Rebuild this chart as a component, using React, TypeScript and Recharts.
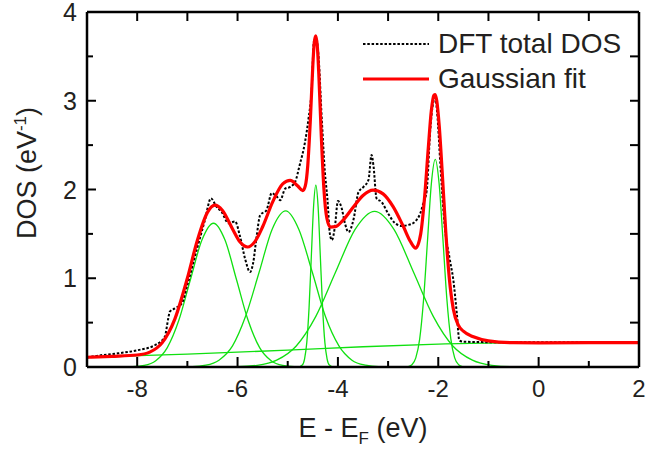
import { LineChart, Line, XAxis, YAxis, Legend } from "recharts";

// DFT total DOS (dotted black)
const dftDos: [number, number][] = [
  [-9, 0.105], [-8.91, 0.116], [-8.38, 0.154], [-7.98, 0.19], [-7.64, 0.248], [-7.45, 0.342],
  [-7.38, 0.55], [-7.35, 0.623], [-7.25, 0.66], [-7.11, 0.717], [-7.01, 0.905], [-6.85, 1.243],
  [-6.65, 1.656], [-6.53, 1.9], [-6.42, 1.806], [-6.32, 1.75], [-6.18, 1.62], [-6.05, 1.64],
  [-5.95, 1.47], [-5.85, 1.22], [-5.75, 1.07], [-5.69, 1.17], [-5.62, 1.47], [-5.55, 1.71],
  [-5.42, 1.77], [-5.32, 1.96], [-5.22, 1.92], [-5.15, 1.88], [-5.05, 2.01], [-4.95, 2.03],
  [-4.85, 2.09], [-4.76, 2.28], [-4.66, 2.52], [-4.59, 2.78], [-4.52, 3.16], [-4.48, 3.66],
  [-4.44, 3.72], [-4.39, 3.53], [-4.32, 2.78], [-4.26, 2.2], [-4.21, 1.9], [-4.16, 1.5],
  [-4.12, 1.43], [-4.06, 1.58], [-4.0, 1.87], [-3.93, 1.8], [-3.86, 1.62], [-3.79, 1.52],
  [-3.69, 1.66], [-3.59, 1.97], [-3.49, 2.03], [-3.39, 2.11], [-3.33, 2.39], [-3.29, 2.26],
  [-3.23, 1.9], [-3.13, 1.86], [-3.0, 1.73], [-2.86, 1.62], [-2.73, 1.59], [-2.6, 1.6],
  [-2.46, 1.64], [-2.36, 1.73], [-2.3, 1.84], [-2.23, 1.99], [-2.16, 2.67], [-2.1, 2.98],
  [-2.06, 3.03], [-2.02, 2.85], [-1.96, 2.3], [-1.87, 1.58], [-1.77, 1.21], [-1.7, 0.98],
  [-1.63, 0.6], [-1.58, 0.3], [-1.5, 0.285], [-1, 0.28], [0, 0.28], [1, 0.278], [2, 0.275],
];

// Gaussian fit (red)
const gaussFit: [number, number][] = [
  [-9, 0.11], [-8.5, 0.12], [-8, 0.135], [-7.75, 0.168], [-7.5, 0.275], [-7.25, 0.54],
  [-7, 1.0], [-6.8, 1.428], [-6.6, 1.742], [-6.45, 1.824], [-6.3, 1.764], [-6.1, 1.555],
  [-5.95, 1.408], [-5.8, 1.352], [-5.65, 1.416], [-5.5, 1.58], [-5.3, 1.861], [-5.1, 2.064],
  [-4.95, 2.103], [-4.8, 2.04], [-4.7, 1.987], [-4.65, 2.041], [-4.6, 2.276], [-4.55, 2.773],
  [-4.5, 3.395], [-4.47, 3.663], [-4.44, 3.73], [-4.41, 3.612], [-4.38, 3.292], [-4.33, 2.589],
  [-4.28, 2.015], [-4.22, 1.676], [-4.15, 1.576], [-4.05, 1.581], [-3.9, 1.653], [-3.7, 1.797],
  [-3.5, 1.933], [-3.3, 1.993], [-3.1, 1.951], [-2.9, 1.807], [-2.7, 1.588], [-2.55, 1.409],
  [-2.45, 1.34], [-2.35, 1.5], [-2.27, 1.93], [-2.2, 2.46], [-2.14, 2.88], [-2.09, 3.06],
  [-2.06, 3.07], [-2.03, 3.0], [-1.98, 2.71], [-1.92, 2.18], [-1.85, 1.52], [-1.78, 1.0],
  [-1.7, 0.652], [-1.6, 0.471], [-1.5, 0.403], [-1.3, 0.34], [-1, 0.295], [-0.5, 0.274],
  [0, 0.272], [1, 0.274], [2, 0.275],
];

// fit components (green)
const peak1: [number, number][] = [
  [-9, 0], [-8.32, 0.001], [-8.09, 0.004], [-7.86, 0.018], [-7.63, 0.071], [-7.4, 0.219],
  [-7.17, 0.526], [-6.94, 0.983], [-6.71, 1.43], [-6.48, 1.62], [-6.25, 1.43], [-6.02, 0.983],
  [-5.79, 0.526], [-5.56, 0.219], [-5.33, 0.071], [-5.1, 0.018], [-4.87, 0.004], [-4.64, 0.001], [2, 0],
];
const peak2: [number, number][] = [
  [-9, 0], [-6.9, 0.004], [-6.63, 0.02], [-6.37, 0.077], [-6.1, 0.238], [-5.84, 0.571],
  [-5.57, 1.067], [-5.31, 1.553], [-5.04, 1.76], [-4.78, 1.553], [-4.51, 1.067], [-4.25, 0.571],
  [-3.98, 0.238], [-3.72, 0.077], [-3.45, 0.02], [-3.19, 0.004], [2, 0],
];
const peak3: [number, number][] = [
  [-9, 0], [-4.8, 0], [-4.71, 0.023], [-4.665, 0.09], [-4.62, 0.277], [-4.575, 0.666],
  [-4.53, 1.243], [-4.485, 1.809], [-4.44, 2.05], [-4.395, 1.809], [-4.35, 1.243],
  [-4.305, 0.666], [-4.26, 0.277], [-4.215, 0.09], [-4.17, 0.023], [-4.08, 0], [2, 0],
];
const peak4: [number, number][] = [
  [-9, 0], [-6.0, 0.004], [-5.61, 0.019], [-5.22, 0.077], [-4.83, 0.237], [-4.44, 0.57],
  [-4.05, 1.064], [-3.66, 1.548], [-3.27, 1.754], [-2.88, 1.548], [-2.49, 1.064], [-2.1, 0.57],
  [-1.71, 0.237], [-1.32, 0.077], [-0.93, 0.019], [-0.54, 0.004], [2, 0],
];
const peak5: [number, number][] = [
  [-9, 0], [-2.7, 0], [-2.6, 0.005], [-2.525, 0.026], [-2.448, 0.103], [-2.37, 0.317],
  [-2.293, 0.76], [-2.215, 1.419], [-2.138, 2.065], [-2.06, 2.34], [-1.983, 2.065],
  [-1.905, 1.419], [-1.828, 0.76], [-1.75, 0.317], [-1.673, 0.103], [-1.595, 0.026],
  [-1.518, 0.005], [-1.42, 0], [2, 0],
];
const background: [number, number][] = [
  [-9, 0.11], [-7, 0.145], [-5, 0.19], [-3.5, 0.228], [-2, 0.258], [-1, 0.27], [2, 0.275],
];

const xDomain: [number, number] = [-9, 2];
const yDomain: [number, number] = [0, 4];
const xTicks = [-8, -7, -6, -5, -4, -3, -2, -1, 0, 1, 2];
const yTicks = [0, 0.5, 1, 1.5, 2, 2.5, 3, 3.5, 4];
const legendItems = [
  { name: "DFT total DOS", color: "#000", dash: "2.5 1.8", width: 2 },
  { name: "Gaussian fit", color: "#ff0000", dash: undefined, width: 3 },
];

const rows = (pts: [number, number][]) => pts.map(([x, y]) => ({ x, y }));
const greens = [peak1, peak2, peak3, peak4, peak5, background];

const FONT = "'Liberation Sans', Arial, sans-serif";
const TXT = "#231f20";
const frame = { stroke: "#000", strokeWidth: 2.5 };

// layout of the plot box
const W = 647;
const H = 452;
const TOP_H = 12;
const BOTTOM_H = 85;
const LEFT_W = 60;
const LEFT_PAD = 27;
const RIGHT_W = 8;
const PLOT_L = LEFT_PAD + LEFT_W;
const PLOT_B = H - BOTTOM_H;
const PLOT_H = H - TOP_H - BOTTOM_H;
const PLOT_W = W - LEFT_PAD - LEFT_W - RIGHT_W;
const px = (v: number) => PLOT_L + ((v - xDomain[0]) / (xDomain[1] - xDomain[0])) * PLOT_W;
const py = (v: number) => PLOT_B - ((v - yDomain[0]) / (yDomain[1] - yDomain[0])) * PLOT_H;

const BottomLabel = (props: any) => {
  const { x, y, payload } = props;
  if (payload.value % 2 !== 0) return <g />;
  return (
    <text x={x} y={y + 30} textAnchor="middle" fontSize={24} fill={TXT} fontFamily={FONT}>
      {payload.value}
    </text>
  );
};

const LeftLabel = (props: any) => {
  const { x, y, payload } = props;
  if (!Number.isInteger(payload.value)) return <g />;
  return (
    <text x={x - 10} y={y + 9} textAnchor="end" fontSize={25} fill={TXT} fontFamily={FONT}>
      {payload.value}
    </text>
  );
};

const TopTick = (props: any) => {
  const { x, y, payload } = props;
  if (payload.value >= 2) return <g />;
  return <line x1={x} y1={y} x2={x} y2={y + 9} stroke="#000" strokeWidth={2} />;
};

const RightTick = (props: any) => {
  const { x, y, payload } = props;
  const v = payload.value;
  if (v <= 0 || v >= 4) return <g />;
  return <line x1={x} y1={y} x2={x - 9} y2={y} stroke="#000" strokeWidth={2} />;
};

const LegendBox = () => (
  <div style={{ fontFamily: FONT, color: TXT }}>
    {legendItems.map((item) => (
      <div key={item.name} style={{ display: "flex", alignItems: "center", height: 35 }}>
        <svg width={66} height={10} style={{ marginRight: 9 }}>
          <line x1={0} y1={5} x2={66} y2={5} stroke={item.color} strokeWidth={item.width} strokeDasharray={item.dash} />
        </svg>
        <span style={{ fontSize: 28, lineHeight: "35px", whiteSpace: "nowrap" }}>{item.name}</span>
      </div>
    ))}
  </div>
);

// axis titles and the inward bottom/left ticks, laid over the chart
const Overlay = () => (
  <svg
    width={W}
    height={H}
    style={{ position: "absolute", left: 0, top: 0, pointerEvents: "none" }}
    fontFamily={FONT}
    fill={TXT}
  >
    <g stroke="#000" strokeWidth={2}>
      {xTicks
        .filter((v) => v < xDomain[1])
        .map((v) => (
          <line key={`bx${v}`} x1={px(v)} y1={PLOT_B} x2={px(v)} y2={PLOT_B - (v % 2 === 0 ? 10 : 6)} />
        ))}
      {yTicks
        .filter((v) => v > yDomain[0] && v < yDomain[1])
        .map((v) => (
          <line key={`ly${v}`} x1={PLOT_L} y1={py(v)} x2={PLOT_L + (Number.isInteger(v) ? 9 : 6)} y2={py(v)} />
        ))}
    </g>
    <text x={363} y={437} textAnchor="middle" fontSize={27}>
      E - E<tspan dy={7} fontSize={17}>F</tspan>
      <tspan dy={-7}> (eV)</tspan>
    </text>
    <text x={36} y={173} textAnchor="middle" fontSize={27} transform="rotate(-90, 36, 173)">
      DOS (eV<tspan dy={-10} fontSize={17}>-1</tspan>
      <tspan dy={10}>)</tspan>
    </text>
  </svg>
);

export default function App() {
  return (
    <div style={{ position: "relative", width: W, height: H, background: "#fff" }}>
      <style>{"body{margin:0}"}</style>
      <LineChart width={W} height={H} margin={{ top: 0, right: 0, bottom: 0, left: LEFT_PAD }}>
        <XAxis
          type="number"
          dataKey="x"
          domain={xDomain}
          ticks={xTicks}
          interval={0}
          height={BOTTOM_H}
          tickSize={0}
          tickMargin={0}
          tickLine={false}
          tick={<BottomLabel />}
          axisLine={frame}
        />
        <XAxis
          xAxisId="top"
          orientation="top"
          type="number"
          dataKey="x"
          domain={xDomain}
          ticks={xTicks}
          interval={0}
          height={TOP_H}
          tickSize={0}
          tickMargin={0}
          tickLine={false}
          tick={<TopTick />}
          axisLine={frame}
        />
        <YAxis
          type="number"
          domain={yDomain}
          ticks={yTicks}
          interval={0}
          width={LEFT_W}
          tickSize={0}
          tickMargin={0}
          tickLine={false}
          tick={<LeftLabel />}
          axisLine={frame}
        />
        <YAxis
          yAxisId="right"
          orientation="right"
          type="number"
          domain={yDomain}
          ticks={yTicks}
          interval={0}
          width={RIGHT_W}
          tickSize={0}
          tickMargin={0}
          tickLine={false}
          tick={<RightTick />}
          axisLine={frame}
        />
        {/* hidden series so the top and right axes have data */}
        <Line
          xAxisId="top"
          yAxisId="right"
          data={rows(background)}
          dataKey="y"
          stroke="none"
          dot={false}
          activeDot={false}
          legendType="none"
          isAnimationActive={false}
        />
        {greens.map((g, i) => (
          <Line
            key={`g${i}`}
            name={`component ${i + 1}`}
            data={rows(g)}
            dataKey="y"
            type="monotone"
            stroke="#10e010"
            strokeWidth={1.3}
            dot={false}
            activeDot={false}
            legendType="none"
            isAnimationActive={false}
          />
        ))}
        <Line
          name="DFT total DOS"
          data={rows(dftDos)}
          dataKey="y"
          type="monotone"
          stroke="#000"
          strokeWidth={2}
          strokeDasharray="2.5 1.8"
          dot={false}
          activeDot={false}
          isAnimationActive={false}
        />
        <Line
          name="Gaussian fit"
          data={rows(gaussFit)}
          dataKey="y"
          type="monotone"
          stroke="#ff0000"
          strokeWidth={3.2}
          dot={false}
          activeDot={false}
          isAnimationActive={false}
        />
        <Legend
          layout="vertical"
          align="center"
          verticalAlign="middle"
          content={<LegendBox />}
          wrapperStyle={{ position: "absolute", top: 26, left: 363, width: 280 }}
        />
      </LineChart>
      <Overlay />
    </div>
  );
}
